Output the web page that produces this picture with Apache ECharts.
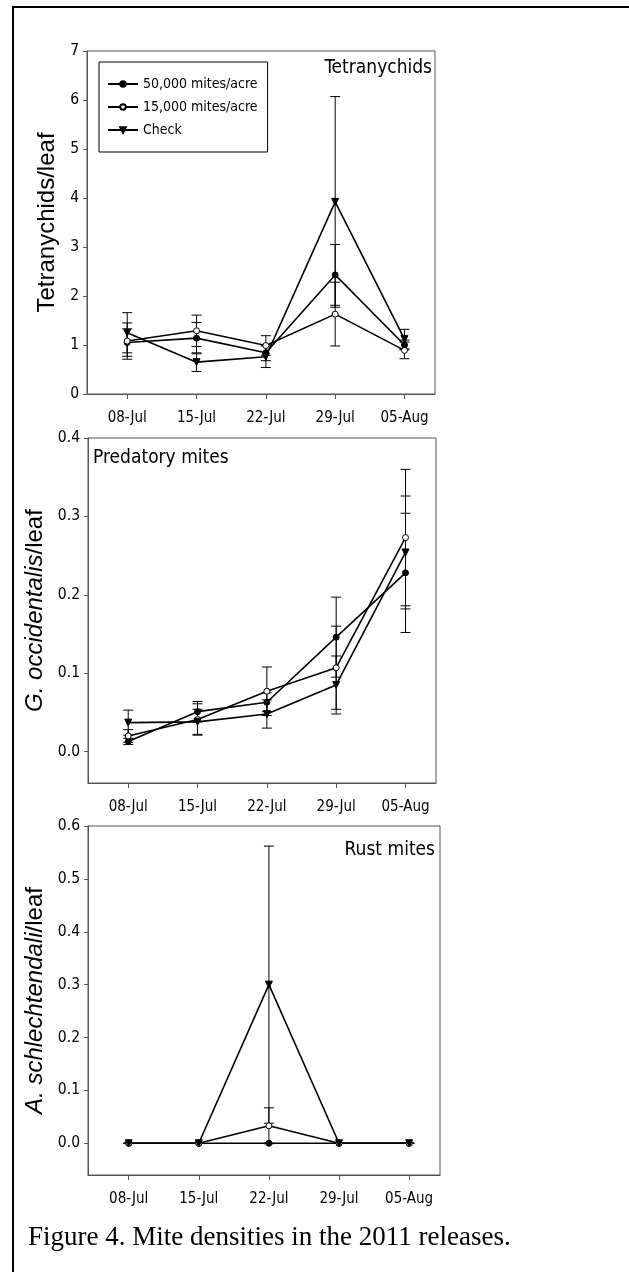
<!DOCTYPE html>
<html>
<head>
<meta charset="utf-8">
<script src="https://cdn.jsdelivr.net/npm/echarts@6/dist/echarts.min.js"></script>
<style>
  html, body { margin: 0; padding: 0; background: #fff; }
  #main { width: 629px; height: 1272px; }
</style>
</head>
<body>
<div id="main"></div>
<script>
// dates on the x axis (index = position on the value axis)
var dates = ['08-Jul', '15-Jul', '22-Jul', '29-Jul', '05-Aug'];
var seriesNames = ['50,000 mites/acre', '15,000 mites/acre', 'Check'];

// Tetranychids/leaf, mean and SE
var tetra50 = [1.05, 1.14, 0.84, 2.43, 1.00];
var tetra50Err = [0.28, 0.32, 0.16, 0.62, 0.10];
var tetra15 = [1.08, 1.29, 0.99, 1.63, 0.89];
var tetra15Err = [0.37, 0.32, 0.20, 0.65, 0.17];
var tetraCheck = [1.25, 0.65, 0.76, 3.92, 1.12];
var tetraCheckErr = [0.41, 0.19, 0.22, 2.15, 0.20];

// G. occidentalis/leaf
var pred50 = [0.013, 0.051, 0.063, 0.146, 0.228];
var pred50Err = [0.004, 0.013, 0.012, 0.051, 0.076];
var pred15 = [0.020, 0.041, 0.077, 0.107, 0.273];
var pred15Err = [0.008, 0.020, 0.031, 0.053, 0.087];
var predCheck = [0.037, 0.038, 0.048, 0.085, 0.254];
var predCheckErr = [0.016, 0.016, 0.018, 0.037, 0.072];

// A. schlechtendali/leaf
var rust50 = [0, 0, 0, 0, 0];
var rust50Err = [0, 0, 0, 0, 0];
var rust15 = [0, 0, 0.033, 0, 0];
var rust15Err = [0, 0, 0.034, 0, 0];
var rustCheck = [0, 0, 0.30, 0, 0];
var rustCheckErr = [0, 0, 0.262, 0, 0];

var yTicks1 = [0, 1, 2, 3, 4, 5, 6, 7];
var yTicks2 = [0, 0.1, 0.2, 0.3, 0.4];
var yTicks3 = [0, 0.1, 0.2, 0.3, 0.4, 0.5, 0.6];

var narrow = "'Liberation Sans Narrow', 'Arial Narrow', 'DejaVu Sans Condensed', 'Liberation Sans', Arial, sans-serif";
var sans = "'Liberation Sans', Arial, sans-serif";
var axisColor = '#555';

var triDown = 'path://M0,0 L10,0 L5,9 Z';
var symbols = ['circle', 'circle', triDown];
var fills = ['#000', '#fff', '#000'];
var sizes = [6, 6, 7];

function pts(arr) {
  return arr.map(function (v, i) { return [i, v]; });
}
function bars(arr, err) {
  return arr.map(function (v, i) { return [i, v - err[i], v + err[i]]; });
}

function errorRender(params, api) {
  var x = api.value(0);
  var lo = api.coord([x, api.value(1)]);
  var hi = api.coord([x, api.value(2)]);
  var w = 5;
  var st = { stroke: '#000', lineWidth: 1 };
  return {
    type: 'group',
    children: [
      { type: 'line', shape: { x1: hi[0], y1: hi[1], x2: lo[0], y2: lo[1] }, style: st },
      { type: 'line', shape: { x1: hi[0] - w, y1: hi[1], x2: hi[0] + w, y2: hi[1] }, style: st },
      { type: 'line', shape: { x1: lo[0] - w, y1: lo[1], x2: lo[0] + w, y2: lo[1] }, style: st }
    ]
  };
}

var panels = [
  { means: [tetra50, tetra15, tetraCheck], errs: [tetra50Err, tetra15Err, tetraCheckErr] },
  { means: [pred50, pred15, predCheck], errs: [pred50Err, pred15Err, predCheckErr] },
  { means: [rust50, rust15, rustCheck], errs: [rust50Err, rust15Err, rustCheckErr] }
];

var grids = [
  { left: 87, top: 51, width: 348, height: 343 },
  { left: 88, top: 438, width: 348, height: 345 },
  { left: 88, top: 826, width: 352, height: 349 }
];

function xAxisFor(i) {
  return {
    type: 'value', gridIndex: i, min: -0.58, max: 4.44,
    axisLine: { show: true, onZero: false, lineStyle: { color: axisColor, width: 1 } },
    axisTick: { show: true, inside: false, length: 5, customValues: [0, 1, 2, 3, 4], lineStyle: { color: axisColor } },
    axisLabel: {
      customValues: [0, 1, 2, 3, 4], margin: 17,
      fontFamily: narrow, fontSize: 15, color: '#000',
      formatter: function (v) { return dates[Math.round(v)]; }
    },
    splitLine: { show: false }
  };
}

function yAxisFor(i, min, max, ticks, digits, name, gap) {
  return {
    type: 'value', gridIndex: i, min: min, max: max,
    axisLine: { show: true, onZero: false, lineStyle: { color: axisColor, width: 1 } },
    axisTick: { show: true, length: 4, customValues: ticks, lineStyle: { color: axisColor } },
    axisLabel: {
      customValues: ticks, margin: 8,
      fontFamily: narrow, fontSize: 15.5, color: '#000',
      formatter: function (v) { return v.toFixed(digits); }
    },
    splitLine: { show: false },
    name: name, nameLocation: 'middle', nameGap: gap, nameRotate: 90,
    nameTextStyle: {
      fontFamily: sans, fontSize: 24, color: '#000',
      rich: {
        i: { fontFamily: sans, fontSize: 24, fontStyle: 'italic', color: '#000' },
        n: { fontFamily: sans, fontSize: 24, color: '#000' }
      }
    }
  };
}

var series = [];
panels.forEach(function (p, gi) {
  for (var k = 0; k < 3; k++) {
    series.push({
      type: 'custom', name: 'SE ' + seriesNames[k], xAxisIndex: gi, yAxisIndex: gi,
      renderItem: errorRender, data: bars(p.means[k], p.errs[k]), z: 1,
      clip: false, silent: true
    });
  }
  for (var k2 = 0; k2 < 3; k2++) {
    series.push({
      type: 'line', name: seriesNames[k2], xAxisIndex: gi, yAxisIndex: gi,
      data: pts(p.means[k2]), z: 3,
      symbol: symbols[k2], symbolSize: sizes[k2], showAllSymbol: true,
      lineStyle: { color: '#000', width: 1.6 },
      itemStyle: { color: fills[k2], borderColor: '#000', borderWidth: 1, opacity: 1 },
      emphasis: { disabled: true }, animation: false
    });
  }
});

var myChart = echarts.init(document.getElementById('main'), null, { renderer: 'canvas' });
var option = {
  animation: false,
  backgroundColor: '#fff',
  grid: grids.map(function (g) {
    return { left: g.left, top: g.top, width: g.width, height: g.height, show: true, borderColor: axisColor, borderWidth: 1, backgroundColor: 'transparent' };
  }),
  xAxis: [xAxisFor(0), xAxisFor(1), xAxisFor(2)],
  yAxis: [
    yAxisFor(0, 0, 7, yTicks1, 0, 'Tetranychids/leaf', 26),
    yAxisFor(1, -0.04, 0.4, yTicks2, 1, '{i|G. occidentalis}{n|/leaf}', 34),
    yAxisFor(2, -0.06, 0.6, yTicks3, 1, '{i|A. schlechtendali}{n|/leaf}', 34)
  ],
  title: [
    { text: 'Tetranychids', right: 197, top: 59, padding: 0, textStyle: { fontFamily: narrow, fontSize: 19, fontWeight: 'normal', color: '#000' } },
    { text: 'Predatory mites', left: 93, top: 449, padding: 0, textStyle: { fontFamily: narrow, fontSize: 19, fontWeight: 'normal', color: '#000' } },
    { text: 'Rust mites', right: 194, top: 841, padding: 0, textStyle: { fontFamily: narrow, fontSize: 19, fontWeight: 'normal', color: '#000' } }
  ],
  legend: {
    data: seriesNames,
    orient: 'vertical', left: 99, top: 62,
    padding: [14, 10, 14, 8], itemGap: 7, itemWidth: 30, itemHeight: 7,
    backgroundColor: '#fff', borderColor: '#000', borderWidth: 1, borderRadius: 0,
    selectedMode: false,
    textStyle: { fontFamily: narrow, fontSize: 14, color: '#000', lineHeight: 16 }
  },
  graphic: [
    { type: 'polyline', shape: { points: [[13, 1300], [13, 7], [640, 7]] }, style: { stroke: '#000', lineWidth: 2, fill: null } },
    { type: 'text', left: 28, top: 1224, style: { text: 'Figure 4. Mite densities in the 2011 releases.', font: "27px 'Liberation Serif', 'Times New Roman', serif", fill: '#000' } }
  ],
  series: series
};
myChart.setOption(option);
</script>
</body>
</html>
